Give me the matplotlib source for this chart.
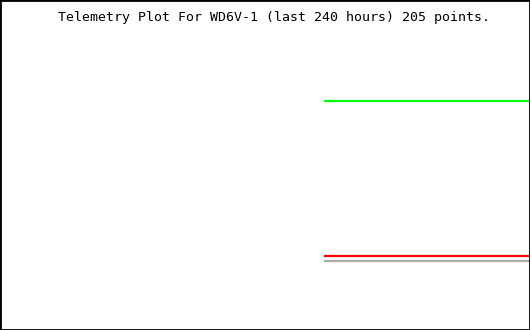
import matplotlib
matplotlib.use("Agg")
import matplotlib.pyplot as plt

# telemetry, hours relative to now (last 240 hours)
hours = [-93.3, -70.0, -46.7, -23.3, 0.0]
green_vals = [69.4, 69.4, 69.4, 69.4, 69.4]
red_vals = [22.4, 22.4, 22.4, 22.4, 22.4]
gray_vals = [20.9, 20.9, 20.9, 20.9, 20.9]

title = "Telemetry Plot For WD6V-1 (last 240 hours) 205 points."

fig = plt.figure(figsize=(5.3, 3.3), dpi=100)
ax = fig.add_axes([0, 0, 1, 1])
ax.set_xlim(-240, 0)
ax.set_ylim(0, 100)

ax.plot(hours, green_vals, color="#00ff00", lw=1.6, solid_capstyle="butt")
ax.plot(hours, red_vals, color="#ff0000", lw=1.6, solid_capstyle="butt")
ax.plot(hours, gray_vals, color="#aaaaaa", lw=1.6, solid_capstyle="butt")

ax.set_xticks([])
ax.set_yticks([])
for s in ax.spines.values():
    s.set_color("black")
    s.set_linewidth(2)

ax.text(0.517, 0.947, title, transform=ax.transAxes, ha="center", va="center",
        family="DejaVu Sans Mono", fontsize=9.55)

fig.savefig("out.png", dpi=100)
